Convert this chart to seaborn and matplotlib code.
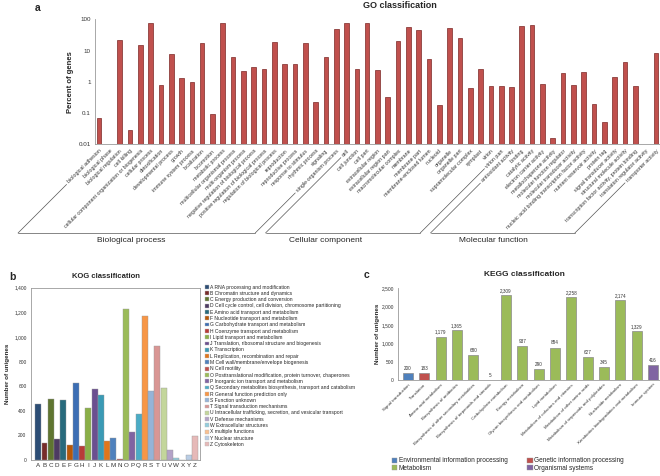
import matplotlib
matplotlib.use("Agg")
import numpy as np
import pandas as pd
import matplotlib.pyplot as plt
import seaborn as sns
from matplotlib.patches import Patch
from matplotlib.lines import Line2D
from matplotlib.ticker import StrMethodFormatter, NullLocator

## GO classification (percent of genes)
go_bp = ["biological adhesion", "biological phase", "biological regulation", "cell killing",
         "cellular component organization or biogenesis", "cellular process", "detoxification",
         "developmental process", "growth", "immune system process", "localization", "locomotion",
         "metabolic process", "multicellular organismal process", "multi-organism process",
         "negative regulation of biological process", "positive regulation of biological process",
         "regulation of biological process", "reproduction", "reproductive process",
         "response to stimulus", "rhythmic process", "signaling", "single-organism process"]
go_bp_vals = [0.068, 0.0105, 22, 0.029, 15.6, 74, 0.78, 7.5, 1.34, 0.96, 17.6, 0.095,
              76, 6.3, 2.2, 3.0, 2.6, 19, 3.8, 3.7, 17.6, 0.23, 6.3, 48]
go_cc = ["cell", "cell junction", "cell part", "extracellular region", "extracellular region part",
         "macromolecular complex", "membrane", "membrane part", "membrane-enclosed lumen", "nucleoid",
         "organelle", "organelle part", "supramolecular complex", "symplast", "virion", "virion part"]
go_cc_vals = [74, 2.6, 74, 2.3, 0.32, 19.5, 55, 44, 5.4, 0.18, 53, 25, 0.62, 2.6, 0.73, 0.73]
go_mf = ["antioxidant activity", "binding", "catalytic activity", "electron carrier activity",
         "metallochaperone activity", "molecular function regulator", "molecular transducer activity",
         "nucleic acid binding transcription factor activity", "nutrient reservoir activity",
         "protein tag", "signal transducer activity", "structural molecule activity",
         "transcription factor activity, protein binding", "translation regulator activity",
         "transporter activity"]
go_mf_vals = [0.70, 60, 65, 0.83, 0.0155, 1.94, 0.77, 2.0, 0.19, 0.051, 1.38, 4.2, 0.75, 0.0105, 8.1]
go_groups = ["Biological process", "Cellular component", "Molecular function"]

## KOG classification
kog_letters = list("ABCDEFGHIJKLMNOPQRSTUVWXYZ")
kog_counts = [452, 140, 492, 170, 485, 120, 625, 110, 420, 580, 530, 155, 178,
              5, 1225, 228, 370, 1168, 558, 930, 582, 85, 20, 3, 38, 192]
kog_names = ["RNA processing and modification", "Chromatin structure and dynamics",
             "Energy production and conversion",
             "Cell cycle control, cell division, chromosome partitioning",
             "Amino acid transport and metabolism", "Nucleotide transport and metabolism",
             "Carbohydrate transport and metabolism", "Coenzyme transport and metabolism",
             "Lipid transport and metabolism", "Translation, ribosomal structure and biogenesis",
             "Transcription", "Replication, recombination and repair",
             "Cell wall/membrane/envelope biogenesis", "Cell motility",
             "Posttranslational modification, protein turnover, chaperones",
             "Inorganic ion transport and metabolism",
             "Secondary metabolites biosynthesis, transport and catabolism",
             "General function prediction only", "Function unknown",
             "Signal transduction mechanisms",
             "Intracellular trafficking, secretion, and vesicular transport",
             "Defense mechanisms", "Extracellular structures", "multiple functions",
             "Nuclear structure", "Cytoskeleton"]
kog_colors = ["#2C4D75", "#772C2A", "#5F7530", "#4D3B62", "#276A7C", "#B65708",
              "#3C6EB4", "#B83B38", "#8AAF48", "#6B4F90", "#3A9AB5", "#E0761C",
              "#4F81BD", "#C0504D", "#9BBB59", "#8064A2", "#4BACC6", "#F79646",
              "#95B3D7", "#D99694", "#C3D69B", "#B3A2C7", "#93CDDD", "#FAC090",
              "#B9CDE5", "#E6B9B8"]

## KEGG classification
kegg_paths = ["Signal transduction", "Translation", "Amino acid metabolism",
              "Biosynthesis of antibiotics", "Biosynthesis of other secondary metabolites",
              "Biosynthesis of terpenoids and steroids", "Carbohydrate metabolism",
              "Energy metabolism", "Glycan biosynthesis and metabolism", "Lipid metabolism",
              "Metabolism of cofactors and vitamins", "Metabolism of other amino acids",
              "Metabolism of terpenoids and polyketides", "Nucleotide metabolism",
              "Xenobiotics biodegradation and metabolism", "Immune system"]
kegg_counts = [200, 183, 1179, 1365, 680, 5, 2309, 937, 290, 884, 2258, 627, 345, 2174, 1329, 416]
kegg_class = ["Environmental information processing", "Genetic information processing"] + \
             ["Metabolism"] * 13 + ["Organismal systems"]
kegg_palette = {"Environmental information processing": "#4F81BD",
                "Genetic information processing": "#C0504D",
                "Metabolism": "#9BBB59",
                "Organismal systems": "#8064A2"}

sns.set_style("white")
plt.rcParams['font.family'] = ['Liberation Sans', 'DejaVu Sans']

W, H = 660, 476
fig = plt.figure(figsize=(W / 100, H / 100), dpi=100)


def box(x0, y0, x1, y1):
    # pixel box (top-left origin) -> figure fraction rect
    return [x0 / W, 1 - y1 / H, (x1 - x0) / W, (y1 - y0) / H]


def light_axes(ax, spines=("left", "bottom")):
    for s in ["top", "right", "left", "bottom"]:
        ax.spines[s].set_visible(s in spines)
        ax.spines[s].set_color("#9a9a9a")
        ax.spines[s].set_linewidth(0.6)
    ax.tick_params(colors="#333333", length=2, width=0.4, pad=1)


# ---- a: GO ----
ax_a = fig.add_axes(box(95, 19.3, 660, 144.3))
go_df = pd.DataFrame({"term": go_bp + go_cc + go_mf,
                      "pct": go_bp_vals + go_cc_vals + go_mf_vals})
sns.barplot(data=go_df, x="term", y="pct", color="#C0504D", edgecolor="#7B2826",
            linewidth=0.5, width=0.45, saturation=1, ax=ax_a)
ax_a.set_yscale("log")
ax_a.set_ylim(0.01, 100)
ax_a.set_xlim(-0.39, 54.4)
ax_a.set_yticks([0.01, 0.1, 1, 10, 100])
ax_a.set_yticklabels(["0.01", "0.1", "1", "10", "100"], fontsize=4.5)
ax_a.yaxis.set_minor_locator(NullLocator())
ax_a.set_xticks(range(len(go_df)))
ax_a.set_xticklabels(go_df["term"], rotation=45, ha="right", va="top",
                     rotation_mode="anchor", fontsize=3.8, color="#333333")
light_axes(ax_a)
ax_a.set_xlabel("")
ax_a.set_ylabel("Percent of genes", fontsize=5.5, fontweight="bold")
ax_a.yaxis.set_label_coords(-0.037, 0.5)
fig.text(38 / W, 1 - 8 / H, "a", fontsize=7.5, fontweight="bold", ha="center", va="center")
fig.text(400 / W, 1 - 6 / H, "GO classification", fontsize=6.5, fontweight="bold",
         ha="center", va="center")

# ---- b: KOG ----
ax_b = fig.add_axes(box(30.7, 287.7, 200, 460))
sns.barplot(x=kog_letters, y=kog_counts, hue=kog_letters, palette=kog_colors,
            legend=False, width=0.95, saturation=1, edgecolor="#9a9a9a", linewidth=0.3, ax=ax_b)
ax_b.set_ylim(0, 1400)
ax_b.set_xlim(-1.2, 25.8)
ax_b.set_yticks(range(0, 1401, 200))
ax_b.yaxis.set_major_formatter(StrMethodFormatter("{x:,.0f}"))
light_axes(ax_b, spines=("left", "bottom", "top", "right"))
ax_b.tick_params(axis="y", labelsize=3.5)
ax_b.tick_params(axis="x", labelsize=4.5, length=0, pad=2)
ax_b.set_ylabel("Number of unigenes", fontsize=4.5, fontweight="bold")
ax_b.yaxis.set_label_coords(-0.122, 0.5)
fig.text(12 / W, 1 - 277 / H, "b", fontsize=7.5, fontweight="bold", ha="center", va="center")
fig.text(106 / W, 1 - 277 / H, "KOG classification", fontsize=5.5, fontweight="bold",
         ha="center", va="center")
kog_handles = [Patch(facecolor=c, edgecolor="#bbbbbb", linewidth=0.3) for c in kog_colors]
fig.legend(kog_handles, [f"{l} {n}" for l, n in zip(kog_letters, kog_names)],
           loc="upper left", bbox_to_anchor=(205 / W, 1 - 284.5 / H), fontsize=3.6,
           frameon=False, handlelength=0.8, handleheight=0.8, handletextpad=0.3,
           labelspacing=0.26, borderaxespad=0, borderpad=0)

# ---- c: KEGG ----
ax_c = fig.add_axes(box(398, 288.3, 660, 380))
sns.barplot(x=kegg_paths, y=kegg_counts, hue=kegg_class, palette=kegg_palette,
            dodge=False, legend=False, width=0.62, saturation=1,
            edgecolor="#8a8a8a", linewidth=0.5, ax=ax_c)
for cont in ax_c.containers:
    ax_c.bar_label(cont, fmt="{:,.0f}", fontsize=3.3, padding=1.5, color="#333333")
ax_c.set_ylim(0, 2500)
ax_c.set_xlim(-0.61, 15.43)
ax_c.set_yticks(range(0, 2501, 500))
ax_c.yaxis.set_major_formatter(StrMethodFormatter("{x:,.0f}"))
light_axes(ax_c)
ax_c.tick_params(axis="y", labelsize=3.5)
ax_c.set_xticks(range(len(kegg_paths)))
ax_c.set_xticklabels(kegg_paths, rotation=45, ha="right", va="top",
                     rotation_mode="anchor", fontsize=3.2)
ax_c.tick_params(axis="x", length=0, pad=2)
ax_c.set_ylabel("Number of unigenes", fontsize=4.5, fontweight="bold")
ax_c.yaxis.set_label_coords(-0.069, 0.5)
fig.text(367 / W, 1 - 275 / H, "c", fontsize=7.5, fontweight="bold", ha="center", va="center")
fig.text(524 / W, 1 - 275 / H, "KEGG classification", fontsize=6, fontweight="bold",
         ha="center", va="center")
order = ["Environmental information processing", "Metabolism",
         "Genetic information processing", "Organismal systems"]
fig.legend([Patch(facecolor=kegg_palette[k], edgecolor="#999999", linewidth=0.3) for k in order],
           order, ncol=2, loc="upper left", bbox_to_anchor=(392 / W, 1 - 457.5 / H),
           fontsize=4.7, frameon=False, handlelength=0.8, handleheight=0.8,
           handletextpad=0.25, labelspacing=0.1, columnspacing=3.0,
           borderaxespad=0, borderpad=0)

# ---- GO group brackets under the rotated labels ----
fig.canvas.draw()
renderer = fig.canvas.get_renderer()
labels = ax_a.get_xticklabels()
inv = fig.transFigure.inverted()
yb = H - 233
spans = [(0, len(go_bp) - 1), (len(go_bp), len(go_bp) + len(go_cc) - 1),
         (len(go_bp) + len(go_cc), len(go_df) - 1)]
for (i0, i1), name in zip(spans, go_groups):
    ends = []
    for i in (i0, i1):
        bb = labels[i].get_window_extent(renderer)
        x0, y0 = bb.x0, bb.y0
        xe = x0 - (y0 - yb)
        seg = inv.transform([(x0, y0), (xe, yb)])
        fig.add_artist(Line2D(seg[:, 0], seg[:, 1], color="#555555", lw=0.5))
        ends.append(xe)
    seg = inv.transform([(ends[0], yb), (ends[1], yb)])
    fig.add_artist(Line2D(seg[:, 0], seg[:, 1], color="#555555", lw=0.5))

fig.text(131 / W, 1 - 240 / H, go_groups[0], fontsize=6, ha="center", va="center")
fig.text(326 / W, 1 - 240 / H, go_groups[1], fontsize=6, ha="center", va="center")
fig.text(493 / W, 1 - 240 / H, go_groups[2], fontsize=6, ha="center", va="center")

plt.savefig("out.png", dpi=100)
plt.close()
